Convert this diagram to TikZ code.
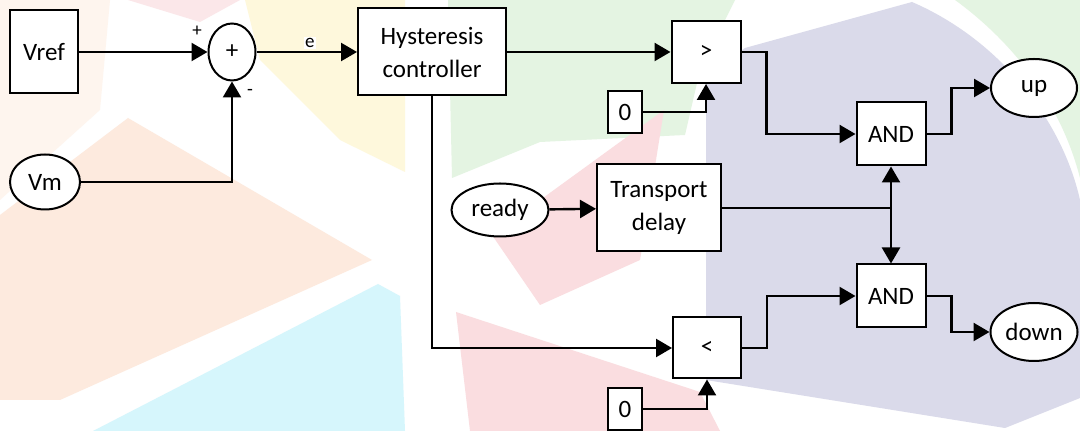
\documentclass[tikz,border=0pt]{standalone}
\usepackage{fontspec}
\setmainfont{Carlito}
\usetikzlibrary{arrows.meta, positioning, shapes.geometric}
\definecolor{wmpeach}{RGB}{253,234,222}
\definecolor{wmcyan}{RGB}{214,246,252}
\definecolor{wmyellow}{RGB}{254,248,220}
\definecolor{wmgreen}{RGB}{228,244,226}
\definecolor{wmpink}{RGB}{250,221,224}
\definecolor{wmlav}{RGB}{218,218,234}

\begin{document}
\begin{tikzpicture}[x=0.5pt, y=-0.5pt,
    blk/.style={draw, line width=1pt, fill=white, inner sep=0pt, align=center,
      font=\fontsize{12.5}{16.5}\selectfont},
    port/.style={blk, ellipse},
    sign/.style={fill=white, inner sep=0.6pt, font=\fontsize{9.5}{10}\selectfont},
    wire/.style={line width=1.2pt, -{Triangle[length=8pt, width=9pt]}},
    link/.style={line width=1.2pt}]
    \useasboundingbox (0,0) rectangle (1080,431);
    \fill[white] (0,0) rectangle (1080,431);
    % faded logo behind the diagram
    \fill[wmpeach] (0,215) -- (128,118) -- (372,260) -- (60,400) -- (0,400) -- cycle;
    \fill[wmpeach!50] (0,0) -- (110,0) -- (100,110) -- (0,200) -- cycle;
    \fill[wmcyan] (93,431) -- (378,284) -- (400,296) -- (405,431) -- cycle;
    \fill[wmpink!70] (128,0) -- (240,0) -- (200,22) -- cycle;
    \fill[wmyellow] (245,0) -- (405,0) -- (405,172) -- (340,140) -- (260,60) -- cycle;
    \fill[wmgreen] (448,0) -- (735,0) -- (700,70) -- (685,135) -- (540,142) -- (452,178) -- cycle;
    \fill[wmgreen] (955,0) -- (1080,0) -- (1080,178) .. controls (1060,100) and (1010,40) .. cycle;
    \fill[wmpink] (664,110) -- (640,260) -- (540,305) -- (492,235) -- cycle;
    \fill[wmpink] (456,312) -- (700,392) -- (720,431) -- (470,431) -- cycle;
    \fill[wmlav] (706,380) -- (706,76) -- (745,48) -- (912,2)
      .. controls (1000,40) and (1062,120) .. (1080,200) -- (1080,398) -- (1005,428) -- cycle;

    % blocks
    \node[blk, minimum width=34pt, minimum height=41.5pt] (vref) at (44,52) {Vref};
    \node[port, minimum width=23.5pt, minimum height=28.5pt] (sum) at (232,52) {+};
    \node[port, minimum width=35pt, minimum height=27.5pt] (vm) at (45,182) {Vm};
    \node[blk, minimum width=74pt, minimum height=43.5pt] (hyst) at (432,52) {Hysteresis\\controller};
    \node[blk, minimum width=34.5pt, minimum height=31pt] (gt) at (706,52) {>};
    \node[blk, minimum width=17pt, minimum height=21pt] (zeroA) at (625,112) {0};
    \node[blk, minimum width=34pt, minimum height=30.5pt] (lt) at (707,348) {<};
    \node[blk, minimum width=17pt, minimum height=21pt] (zeroB) at (625,409) {0};
    \node[port, minimum width=48.5pt, minimum height=26.5pt] (ready) at (500,210) {ready};
    \node[blk, minimum width=62pt, minimum height=43.5pt] (delay) at (659,208) {Transport\\delay};
    \node[blk, minimum width=34.5pt, minimum height=31.5pt] (andA) at (891,134) {AND};
    \node[blk, minimum width=34.5pt, minimum height=31.5pt] (andB) at (891,296) {AND};
    \node[port, minimum width=43pt, minimum height=29pt] (up) at (1034,88) {up};
    \node[port, minimum width=43.5pt, minimum height=29pt] (down) at (1034,332) {down};

    % signs on the summing point
    \node[sign] (plus) at (197,31) {+};
    \node[sign] (minus) at (250,92) {-};

    % connectors
    \draw[wire] (vref) -- (sum);
    \draw[wire] (vm) -| (sum);
    \draw[wire] (sum) -- node[sign, pos=0.53, above=1pt] (err) {e} (hyst);
    \draw[wire] (hyst) -- (gt);
    \draw[wire] (zeroA) -| (gt);
    \draw[wire] (hyst.south) |- (lt);
    \draw[wire] (zeroB) -| (lt);
    \draw[wire] (gt.east) -- ++(25,0) |- (andA.west);
    \draw[wire] (lt.east) -- ++(25,0) |- (andB.west);
    \draw[wire] (andA.east) -- ++(25,0) |- (up.west);
    \draw[wire] (andB.east) -- ++(25,0) |- (down.west);
    \draw[wire] (ready) -- (delay);
    \coordinate (split) at (andA.south |- delay.east);
    \draw[link] (delay.east) -- (split);
    \draw[wire] (split) -- (andA.south);
    \draw[wire] (split) -- (andB.north);
  \end{tikzpicture}
\end{document}
